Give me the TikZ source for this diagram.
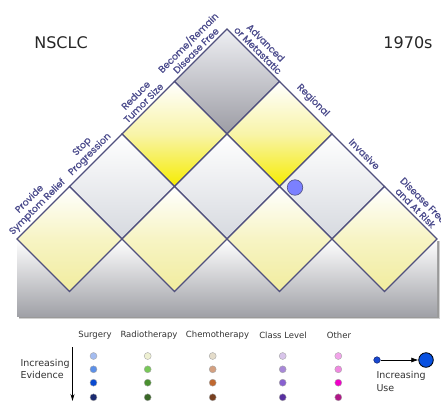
\documentclass[tikz,border=0pt]{standalone}
\usepackage{fontspec}
\setmainfont{DejaVu Sans}
\newfontfamily\labfont[FakeBold=0.6]{Poppins}
\usetikzlibrary{arrows.meta,calc}
\definecolor{edgec}{HTML}{50507E}
\definecolor{labc}{HTML}{4A4A8C}
\definecolor{legc}{HTML}{333333}
\definecolor{g0top}{HTML}{EEEFF3}
\definecolor{g0bot}{HTML}{9C9CA4}
\definecolor{y1bot}{HTML}{F6EC00}
\definecolor{y1mid}{HTML}{F8F4A8}
\definecolor{g2bot}{HTML}{D6D9DF}
\definecolor{y3bot}{HTML}{F1EC9E}
\definecolor{y3mid}{HTML}{F7F4C4}
\definecolor{bgbot}{HTML}{A0A1A7}
\definecolor{markc}{HTML}{7B80FF}
\begin{document}
\begin{tikzpicture}[x=1pt,y=-1pt,
  dia/.style={draw=edgec, line width=1.1pt, line join=miter},
  diaA/.style={dia, top color=g0top, bottom color=g0bot},
  diaB/.style={dia, top color=white, bottom color=y1bot, middle color=y1mid},
  diaC/.style={dia, top color=white, bottom color=g2bot},
  diaD/.style={dia, top color=white, bottom color=y3bot, middle color=y3mid},
  elab/.style={font=\labfont\fontsize{9.5}{11}\selectfont, text=labc, align=center, anchor=south, inner sep=3pt},
  hdr/.style={font=\fontsize{8.5}{10}\selectfont, text=legc},
  ldot/.style={circle, inner sep=0pt, minimum size=7pt, draw=gray!70, line width=0.4pt},
  legtxt/.style={font=\fontsize{9.5}{12.5}\selectfont, text=legc, align=left}
]
\useasboundingbox (0,0) rectangle (441,412);
\fill[white] (0,0) rectangle (441,412);

% lattice coordinates
\foreach \a in {0,...,4}{
  \foreach \b in {0,...,4}{
    \coordinate (p\a\b) at ({227+(\b-\a)*52.5},{29+(\a+\b)*52.5});
  }
}

% background base with shadow
\fill[black!18] (19,241) rectangle (440,319);
\fill[black!40] (18.5,240.5) rectangle (438.5,317.5);
\shade[top color=white, bottom color=bgbot] (17,239) rectangle (437,316);

% diamonds
\foreach \n/\st in {0/diaA,1/diaB,2/diaC,3/diaD}{
  \foreach \a in {0,...,\n}{
    \pgfmathtruncatemacro\b{\n-\a}
    \pgfmathtruncatemacro\aa{\a+1}
    \pgfmathtruncatemacro\bb{\b+1}
    \path[\st] (p\a\b) -- (p\a\bb) -- (p\aa\bb) -- (p\aa\b) -- cycle;
  }
}

% marker
\node[circle, fill=markc, draw=edgec, line width=0.6pt, minimum size=15.5pt, inner sep=0pt] (mark) at (295,187.5) {};

% edge labels (left)
\node[elab, rotate=45] (l0) at ($(p00)!0.5!(p10)$) {Become/Remain\\Disease Free};
\node[elab, rotate=45] (l1) at ($(p10)!0.5!(p20)$) {Reduce\\Tumor Size};
\node[elab, rotate=45] (l2) at ($(p20)!0.5!(p30)$) {Stop\\Progression};
\node[elab, rotate=45] (l3) at ($(p30)!0.5!(p40)$) {Provide\\Symptom Relief};
% edge labels (right)
\node[elab, rotate=-45] (r0) at ($(p00)!0.5!(p01)$) {Advanced\\or Metastatic};
\node[elab, rotate=-45, inner sep=5pt] (r1) at ($(p01)!0.5!(p02)$) {Regional};
\node[elab, rotate=-45, inner sep=5pt] (r2) at ($(p02)!0.5!(p03)$) {Invasive};
\node[elab, rotate=-45] (r3) at ($(p03)!0.5!(p04)$) {Disease Free\\and At Risk};

% titles
\node[font=\fontsize{16}{19}\selectfont, text=black!85] (title) at (61,43) {NSCLC};
\node[font=\fontsize{16}{19}\selectfont, text=black!85] (year) at (408,43) {1970s};

% legend headers
\node[hdr] (hs) at (95,335) {Surgery};
\node[hdr] (hr) at (149,335) {Radiotherapy};
\node[hdr] (hc) at (217.5,335) {Chemotherapy};
\node[hdr] (hk) at (283,335) {Class Level};
\node[hdr] (ho) at (339,335) {Other};

% legend dots
\foreach \col/\x/\ca/\cb/\cc/\cd in {
  s/93.5/A4BCF0/5C90E8/0A4AD0/1A2A70,
  r/147.7/EEF0D2/78C858/4A9030/3A6828,
  c/212.7/E4DCCA/D4A080/C06830/784020,
  k/282.7/D8C4EA/A888D8/8860D0/5830A0,
  o/338.3/F2A4EA/F088E0/F000C8/B01888}{
  \definecolor{d1}{HTML}{\ca}\definecolor{d2}{HTML}{\cb}
  \definecolor{d3}{HTML}{\cc}\definecolor{d4}{HTML}{\cd}
  \node[ldot, fill=d1] (\col1) at (\x,356) {};
  \node[ldot, fill=d2] (\col2) at (\x,369.3) {};
  \node[ldot, fill=d3] (\col3) at (\x,382.7) {};
  \node[ldot, fill=d4] (\col4) at (\x,397.3) {};
}

% increasing evidence
\node[legtxt, anchor=west] (evtxt) at (17,369) {Increasing\\Evidence};
\coordinate (ev0) at (72.5,347);
\coordinate (ev1) at (72.5,401);
\draw[line width=1pt, -{Stealth[length=7pt,width=4pt]}] (ev0) -- (ev1);

% increasing use
\node[circle, inner sep=0pt, minimum size=6.6pt, fill={rgb,255:red,24;green,72;blue,208}, draw={rgb,255:red,10;green,26;blue,96}, line width=0.4pt] (u1) at (377,360) {};
\node[circle, inner sep=0pt, minimum size=14.6pt, fill={rgb,255:red,8;green,80;blue,224}, draw=black, line width=0.8pt] (u2) at (426,360) {};
\draw[line width=0.6pt, -{Latex[length=7pt,width=5pt]}] (u1) -- (u2);
\node[legtxt, anchor=north west] (utxt) at (373,368) {Increasing\\Use};
\end{tikzpicture}
\end{document}
